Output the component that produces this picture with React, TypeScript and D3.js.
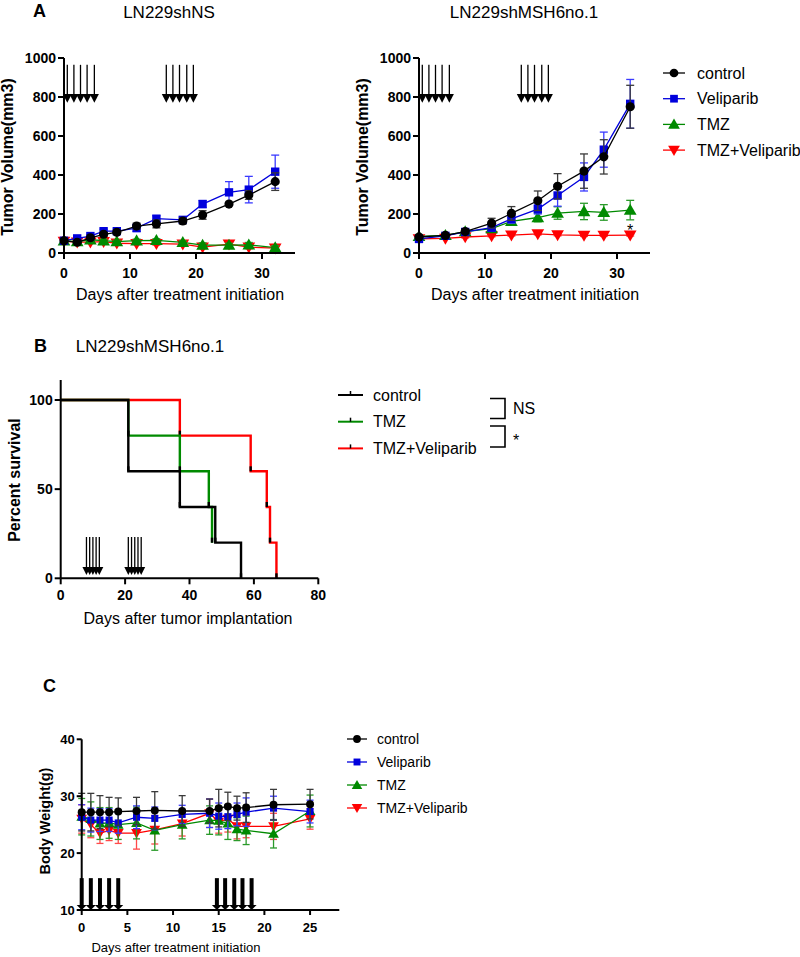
import React from "react";
import * as d3 from "d3";

const FONT = "'Liberation Sans', Arial, Helvetica, sans-serif";

// ---------- Panel A (left) LN229shNS ----------
const daysNS = [0, 2, 4, 6, 8, 11, 14, 18, 21, 25, 28, 32];
const nsControl = [63, 55, 78, 96, 106, 138, 149, 164, 195, 251, 297, 366];
const nsControlErr = [8, 5, 8, 10, 10, 15, 20, 15, 22, 8, 22, 45];
const nsVeliparib = [63, 75, 87, 112, 112, 128, 176, 170, 251, 311, 325, 417];
const nsVeliparibErr = [8, 6, 8, 10, 10, 18, 15, 15, 18, 55, 68, 85];
const nsTMZ = [63, 58, 68, 63, 58, 63, 65, 55, 40, 40, 42, 28];
const nsTMZErr = [6, 5, 8, 8, 8, 8, 8, 8, 12, 10, 12, 10];
const nsCombo = [60, 56, 56, 58, 50, 48, 48, 45, 30, 45, 30, 25];
const nsComboErr = [5, 5, 5, 5, 5, 5, 8, 5, 8, 12, 8, 10];

// ---------- Panel A (right) LN229shMSH6no.1 ----------
const daysMSH = [0, 4, 7, 11, 14, 18, 21, 25, 28, 32];
const mshControl = [82, 90, 110, 153, 203, 268, 342, 420, 493, 750];
const mshControlErr = [8, 8, 10, 25, 35, 50, 65, 88, 88, 110];
const mshVeliparib = [72, 88, 108, 130, 175, 225, 295, 390, 530, 765];
const mshVeliparibErr = [8, 8, 10, 18, 22, 25, 55, 72, 90, 125];
const mshTMZ = [85, 90, 110, 125, 162, 182, 205, 213, 208, 220];
const mshTMZErr = [8, 8, 10, 12, 18, 22, 32, 42, 40, 50];
const mshCombo = [72, 75, 82, 88, 92, 98, 93, 90, 90, 92];
const mshComboErr = [5, 5, 5, 5, 5, 5, 5, 5, 5, 5];

const tumorYTicks = [0, 200, 400, 600, 800, 1000];
const tumorXTicks = [0, 10, 20, 30];
const treatDaysA = [0.5, 1.5, 2.5, 3.5, 4.6, 15.5, 16.5, 17.5, 18.6, 19.6];

// ---------- Panel B survival ----------
const survControlT = [0, 21, 37, 48, 56];
const survControlV = [100, 60, 40, 20, 0];
const survTMZT = [0, 21, 37, 46, 47];
const survTMZV = [100, 80, 60, 40, 20];
const survComboT = [0, 37, 59, 64, 65, 67];
const survComboV = [100, 80, 60, 40, 20, 0];
const survXTicks = [0, 20, 40, 60, 80];
const survYTicks = [0, 50, 100];
const treatDaysB = [8, 9, 10, 11, 12, 21, 22, 23, 24, 25];

// ---------- Panel C body weight ----------
const daysBW = [0, 1, 2, 3, 4, 6, 8, 11, 14, 15, 16, 17, 18, 21, 25];
const bwControl = [27.2, 27.2, 27.2, 27.2, 27.3, 27.4, 27.5, 27.4, 27.4, 27.9, 28.2, 27.9, 28.0, 28.5, 28.6];
const bwControlErr = [3.3, 3.3, 2.9, 2.6, 2.4, 2.4, 3.3, 2.7, 2.1, 3.3, 2.5, 2.1, 2.6, 2.7, 2.6];
const bwVeliparib = [26.3, 25.8, 25.8, 25.8, 25.3, 26.3, 26.1, 26.8, 27.0, 26.5, 26.4, 26.8, 27.2, 27.9, 27.3];
const bwVeliparibErr = [2.2, 2.1, 2.0, 2.0, 1.8, 2.0, 2.0, 1.6, 2.5, 2.3, 2.1, 2.0, 2.5, 2.1, 2.0];
const bwTMZ = [26.4, 26.0, 25.2, 25.3, 25.0, 25.3, 24.0, 25.0, 25.8, 25.7, 25.2, 24.2, 24.0, 23.4, 27.4];
const bwTMZErr = [3.2, 3.0, 2.8, 2.7, 2.6, 2.8, 3.5, 2.5, 2.5, 2.5, 2.8, 2.0, 2.5, 2.5, 2.8];
const bwCombo = [26.0, 25.0, 23.5, 24.0, 23.5, 23.5, 24.1, 25.2, 27.0, 25.5, 26.0, 24.7, 24.7, 24.7, 26.0];
const bwComboErr = [2.5, 2.3, 1.8, 1.8, 1.8, 2.8, 2.5, 2.2, 2.5, 2.0, 2.3, 2.2, 2.0, 2.3, 1.8];
const bwXTicks = [0, 5, 10, 15, 20, 25];
const bwYTicks = [10, 20, 30, 40];
const treatDaysC = [0, 1, 2, 3, 4, 14.8, 15.7, 16.7, 17.6, 18.6];

const groupNames = ["control", "Veliparib", "TMZ", "TMZ+Veliparib"];
const groupColors = ["#000000", "#0000dd", "#008a00", "#ff0000"];
const errColors = ["#3a3a3a", "#3a3aff", "#2a9a2a", "#ff4a4a"];
const groupShapes = ["circle", "square", "up", "down"];

type Scale = d3.ScaleLinear<number, number>;

function symbolPath(shape: string, size: number) {
  if (shape === "circle") return d3.symbol(d3.symbolCircle, size)()!;
  if (shape === "square") return d3.symbol(d3.symbolSquare, size)()!;
  return d3.symbol(d3.symbolTriangle, size)()!;
}

function Marker({ shape, x, y, size, color }: any) {
  const rot = shape === "down" ? 180 : 0;
  const dy = shape === "up" ? 1 : shape === "down" ? -1 : 0;
  return (
    <path
      d={symbolPath(shape, size)}
      transform={`translate(${x},${y + dy}) rotate(${rot})`}
      fill={color}
    />
  );
}

function YAxis({ scale, x, ticks, top, fontSize, tickLen = 6 }: any) {
  const s = scale as Scale;
  const d = s.domain();
  return (
    <g>
      <line x1={x} x2={x} y1={s(d[0])} y2={top ?? s(d[1])} stroke="#000" strokeWidth={2} />
      {ticks.map((t: number) => (
        <g key={t}>
          <line x1={x - tickLen} x2={x} y1={s(t)} y2={s(t)} stroke="#000" strokeWidth={2} />
          <text
            x={x - tickLen - 2}
            y={s(t)}
            dy="0.36em"
            textAnchor="end"
            fontSize={fontSize}
            fontWeight="bold"
            fontFamily={FONT}
          >
            {t}
          </text>
        </g>
      ))}
    </g>
  );
}

function XAxis({ scale, y, ticks, fontSize, labelOffset, tickLen = 6 }: any) {
  const s = scale as Scale;
  const r = s.range();
  return (
    <g>
      <line x1={r[0]} x2={r[1]} y1={y} y2={y} stroke="#000" strokeWidth={2} />
      {ticks.map((t: number) => (
        <g key={t}>
          <line x1={s(t)} x2={s(t)} y1={y} y2={y + tickLen} stroke="#000" strokeWidth={2} />
          <text
            x={s(t)}
            y={y + labelOffset}
            textAnchor="middle"
            fontSize={fontSize}
            fontWeight="bold"
            fontFamily={FONT}
          >
            {t}
          </text>
        </g>
      ))}
    </g>
  );
}

function Series({ xs, ys, errs, x, y, color, errColor, shape, size, cap }: any) {
  const sx = x as Scale;
  const sy = y as Scale;
  const pts: [number, number][] = xs.map((d: number, i: number) => [d, ys[i]]);
  const line = d3
    .line<[number, number]>()
    .x((p) => sx(p[0]))
    .y((p) => sy(p[1]));
  return (
    <g>
      {pts.map((p, i) => {
        const cx = sx(p[0]);
        const y1 = sy(p[1] - errs[i]);
        const y2 = sy(p[1] + errs[i]);
        return (
          <g key={i} stroke={errColor} strokeWidth={1.3}>
            <line x1={cx} x2={cx} y1={y1} y2={y2} />
            <line x1={cx - cap} x2={cx + cap} y1={y1} y2={y1} />
            <line x1={cx - cap} x2={cx + cap} y1={y2} y2={y2} />
          </g>
        );
      })}
      <path d={line(pts)!} fill="none" stroke={color} strokeWidth={1.3} />
      {pts.map((p, i) => (
        <Marker key={i} shape={shape} x={sx(p[0])} y={sy(p[1])} size={size} color={color} />
      ))}
    </g>
  );
}

function ThinArrows({ days, x, yTop, yHeadTop, yTip, half }: any) {
  return (
    <g>
      {days.map((d: number, i: number) => {
        const cx = (x as Scale)(d);
        return (
          <g key={i}>
            <line x1={cx} x2={cx} y1={yTop} y2={yHeadTop + 1} stroke="#000" strokeWidth={1.3} />
            <path d={`M${cx - half},${yHeadTop}L${cx + half},${yHeadTop}L${cx},${yTip}Z`} fill="#000" />
          </g>
        );
      })}
    </g>
  );
}

function TumorPanel({ x0, title, days, data, errs, showStar }: any) {
  const x = d3.scaleLinear().domain([0, 35]).range([x0, x0 + 231]);
  const y = d3.scaleLinear().domain([0, 1000]).range([253, 58]);
  const order = [3, 2, 1, 0];
  return (
    <g>
      <text x={x0 + 105} y={18} textAnchor="middle" fontSize={17} fontFamily={FONT}>
        {title}
      </text>
      <text
        transform={`translate(${x0 - 51},157) rotate(-90)`}
        textAnchor="middle"
        fontSize={16}
        fontWeight="bold"
        fontFamily={FONT}
      >
        Tumor Volume(mm3)
      </text>
      <ThinArrows days={treatDaysA} x={x} yTop={y(965)} yHeadTop={y(815)} yTip={y(770)} half={4.5} />
      {order.map((g) => (
        <Series
          key={g}
          xs={days}
          ys={data[g]}
          errs={errs[g]}
          x={x}
          y={y}
          color={groupColors[g]}
          errColor={errColors[g]}
          shape={groupShapes[g]}
          size={g === 0 ? 66 : 70}
          cap={4}
        />
      ))}
      {showStar && (
        <text x={x(32)} y={y(135) + 9} textAnchor="middle" fontSize={16} fontFamily={FONT}>
          *
        </text>
      )}
      <YAxis scale={y} x={x0} ticks={tumorYTicks} fontSize={14} />
      <XAxis scale={x} y={253} ticks={tumorXTicks} fontSize={14} labelOffset={25} />
      <text x={x0 + 116} y={300} textAnchor="middle" fontSize={16} fontFamily={FONT}>
        Days after treatment initiation
      </text>
    </g>
  );
}

function SurvivalPanel() {
  const x = d3.scaleLinear().domain([0, 80]).range([60.7, 318.3]);
  const y = d3.scaleLinear().domain([0, 100]).range([578.3, 400]);
  const step = d3
    .line<[number, number]>()
    .x((p) => x(p[0]))
    .y((p) => y(p[1]))
    .curve(d3.curveStepAfter);
  const curves = [
    { t: survComboT, v: survComboV, c: "#ff0000" },
    { t: survTMZT, v: survTMZV, c: "#008a00" },
    { t: survControlT, v: survControlV, c: "#000000" },
  ];
  return (
    <g>
      <text x={34} y={352} fontSize={18} fontWeight="bold" fontFamily={FONT}>B</text>
      <text x={150} y={352} textAnchor="middle" fontSize={17} fontFamily={FONT}>
        LN229shMSH6no.1
      </text>
      <text
        transform={`translate(20,480) rotate(-90)`}
        textAnchor="middle"
        fontSize={16}
        fontWeight="bold"
        fontFamily={FONT}
      >
        Percent survival
      </text>
      {curves.map((cv, i) => {
        const pts: [number, number][] = cv.t.map((t, j) => [t, cv.v[j]]);
        return (
          <g key={i}>
            <path d={step(pts)!} fill="none" stroke={cv.c} strokeWidth={2.4} />
            {pts.slice(1).map((p, j) => (
              <line
                key={j}
                x1={x(p[0])}
                x2={x(p[0])}
                y1={y(p[1]) - 5}
                y2={y(p[1])}
                stroke="#000"
                strokeWidth={2.4}
              />
            ))}
          </g>
        );
      })}
      <ThinArrows days={treatDaysB} x={x} yTop={537} yHeadTop={567} yTip={575} half={4} />
      <YAxis scale={y} x={60.7} ticks={survYTicks} fontSize={14} top={380} />
      <XAxis scale={x} y={578.3} ticks={survXTicks} fontSize={14} labelOffset={22} />
      <text x={188} y={624} textAnchor="middle" fontSize={16} fontFamily={FONT}>
        Days after tumor implantation
      </text>
      {["control", "TMZ", "TMZ+Veliparib"].map((n, i) => {
        const ly = 395 + i * 26.7;
        const c = ["#000000", "#008a00", "#ff0000"][i];
        return (
          <g key={n}>
            <line x1={338} x2={363} y1={ly} y2={ly} stroke={c} strokeWidth={2} />
            <line x1={350.5} x2={350.5} y1={ly - 4} y2={ly} stroke="#000" strokeWidth={1.5} />
            <text x={373} y={ly} dy="0.36em" fontSize={16} fontFamily={FONT}>
              {n}
            </text>
          </g>
        );
      })}
      <path d="M490,398.5H505V418.5H490M490,426H505V447H490" fill="none" stroke="#000" strokeWidth={1.6} />
      <text x={513} y={414} fontSize={16} fontFamily={FONT}>NS</text>
      <text x={513} y={446} fontSize={16} fontFamily={FONT}>*</text>
    </g>
  );
}

function WeightPanel() {
  const x = d3.scaleLinear().domain([0, 28.2]).range([81.7, 339.3]);
  const y = d3.scaleLinear().domain([10, 40]).range([910, 739.3]);
  const data = [bwControl, bwVeliparib, bwTMZ, bwCombo];
  const errs = [bwControlErr, bwVeliparibErr, bwTMZErr, bwComboErr];
  const order = [3, 2, 1, 0];
  return (
    <g>
      <text x={43} y={692} fontSize={18} fontWeight="bold" fontFamily={FONT}>C</text>
      <text
        transform={`translate(50,821) rotate(-90)`}
        textAnchor="middle"
        fontSize={14.5}
        fontWeight="bold"
        fontFamily={FONT}
      >
        Body Weight(g)
      </text>
      {order.map((g) => (
        <Series
          key={g}
          xs={daysBW}
          ys={data[g]}
          errs={errs[g]}
          x={x}
          y={y}
          color={groupColors[g]}
          errColor={errColors[g]}
          shape={groupShapes[g]}
          size={g === 0 ? 50 : 50}
          cap={3.5}
        />
      ))}
      {treatDaysC.map((d, i) => {
        const cx = x(d);
        const top = y(15.6);
        const base = y(10);
        return (
          <g key={i}>
            <line x1={cx} x2={cx} y1={top} y2={base - 4} stroke="#000" strokeWidth={4} />
            <path d={`M${cx - 5},${base - 5}L${cx + 5},${base - 5}L${cx},${base}Z`} fill="#000" />
          </g>
        );
      })}
      <YAxis scale={y} x={81.7} ticks={bwYTicks} fontSize={13} tickLen={5} />
      <XAxis scale={x} y={910} ticks={bwXTicks} fontSize={13} labelOffset={22} tickLen={5} />
      <text x={176} y={952} textAnchor="middle" fontSize={13} fontFamily={FONT}>
        Days after treatment initiation
      </text>
      {groupNames.map((n, i) => {
        const ly = 739 + i * 23;
        return (
          <g key={n}>
            <line x1={347} x2={367} y1={ly} y2={ly} stroke={groupColors[i]} strokeWidth={1.3} />
            <Marker shape={groupShapes[i]} x={357} y={ly} size={48} color={groupColors[i]} />
            <text x={377} y={ly} dy="0.36em" fontSize={14} fontFamily={FONT}>
              {n}
            </text>
          </g>
        );
      })}
    </g>
  );
}

export default function App() {
  return (
    <svg
      width={800}
      height={957}
      viewBox="0 0 800 957"
      style={{ position: "absolute", left: 0, top: 0, background: "#fff" }}
    >
      <rect width={800} height={957} fill="#fff" />
      <text x={33} y={17} fontSize={18} fontWeight="bold" fontFamily={FONT}>A</text>
      <TumorPanel
        x0={64}
        title="LN229shNS"
        days={daysNS}
        data={[nsControl, nsVeliparib, nsTMZ, nsCombo]}
        errs={[nsControlErr, nsVeliparibErr, nsTMZErr, nsComboErr]}
      />
      <TumorPanel
        x0={419}
        title="LN229shMSH6no.1"
        days={daysMSH}
        data={[mshControl, mshVeliparib, mshTMZ, mshCombo]}
        errs={[mshControlErr, mshVeliparibErr, mshTMZErr, mshComboErr]}
        showStar
      />
      {groupNames.map((n, i) => {
        const ly = 73 + i * 25.7;
        return (
          <g key={n}>
            <line x1={663} x2={685} y1={ly} y2={ly} stroke={groupColors[i]} strokeWidth={1.3} />
            <Marker shape={groupShapes[i]} x={674} y={ly} size={60} color={groupColors[i]} />
            <text x={697} y={ly} dy="0.36em" fontSize={16} fontFamily={FONT}>
              {n}
            </text>
          </g>
        );
      })}
      <SurvivalPanel />
      <WeightPanel />
    </svg>
  );
}
